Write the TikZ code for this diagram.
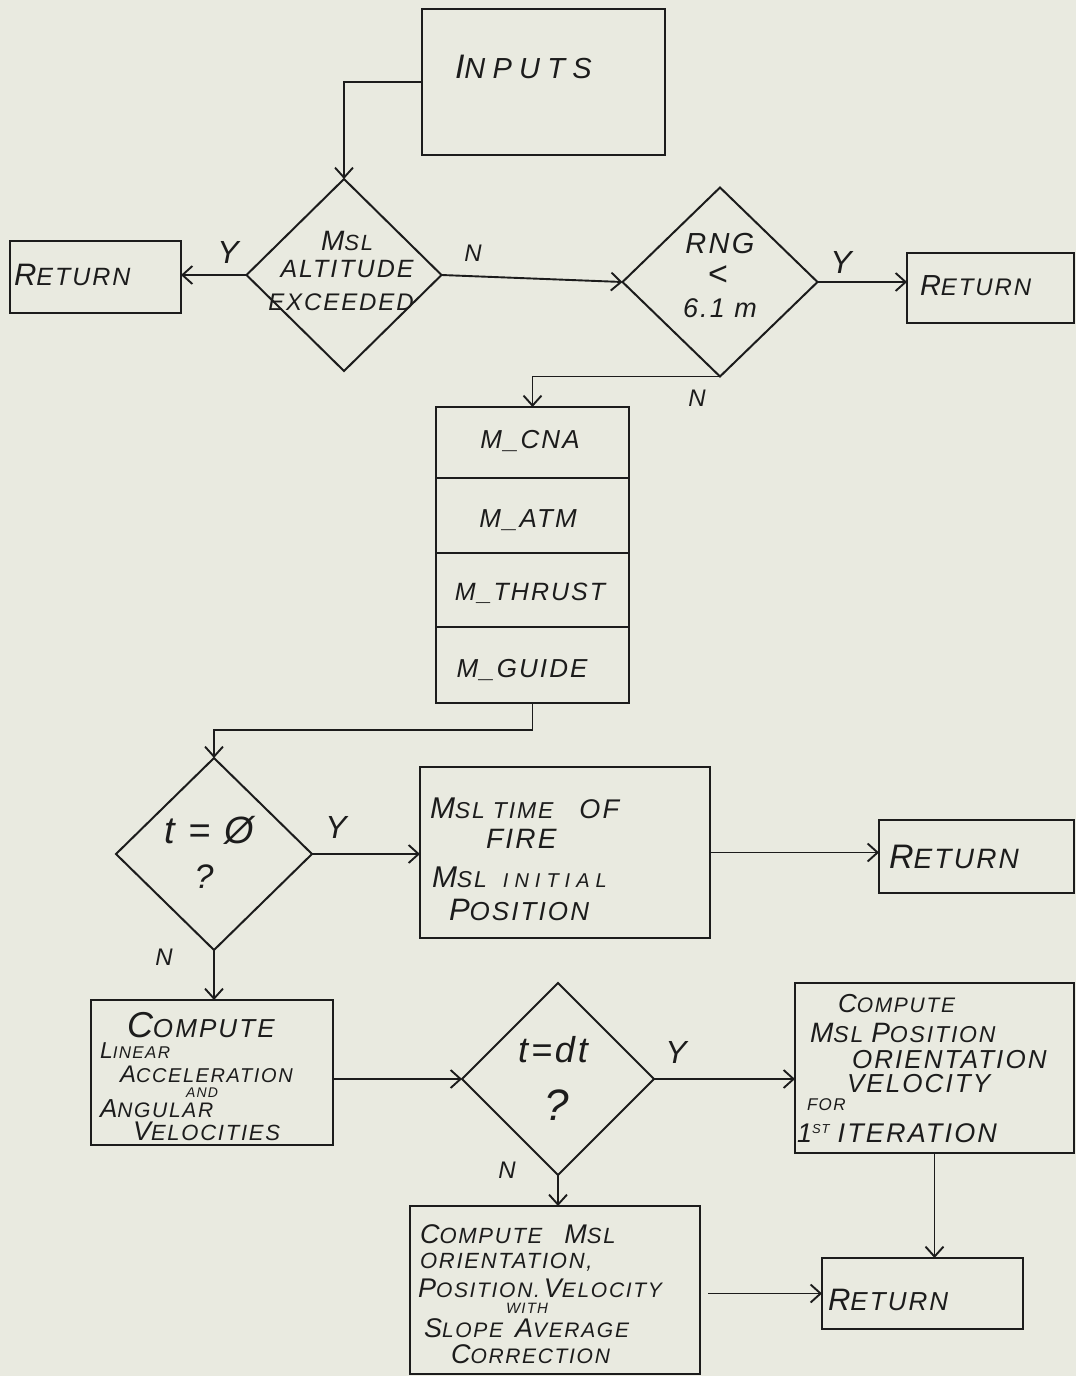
\documentclass[tikz,border=0pt]{standalone}
\usepackage{fontspec}
\setmainfont{Liberation Sans}[LetterSpace=8]
\usetikzlibrary{arrows.meta,shapes.geometric}
\definecolor{paper}{RGB}{233,234,224}
\definecolor{ink}{RGB}{28,28,28}
\newcommand\fsz[1]{\fontsize{#1pt}{#1pt}\selectfont}
\newcommand\IC[4]{{\fsz{#1}#2}{\fsz{#3}#4}}
\begin{document}
\begin{tikzpicture}[x=1pt,y=-1pt,
  box/.style={draw=ink, line width=2.6pt, rectangle, inner sep=0pt, outer sep=0pt},
  dia/.style={draw=ink, line width=2pt, diamond, inner sep=0pt, outer sep=0pt},
  txt/.style={anchor=base west, inner sep=0pt, outer sep=0pt, font=\itshape, text=ink},
  ctxt/.style={anchor=base, inner sep=0pt, outer sep=0pt, font=\itshape, text=ink},
  lbl/.style={anchor=center, inner sep=0pt, outer sep=0pt, font=\itshape\fsz{32}, text=ink},
  conn/.style={draw=ink, line width=1.9pt, -{Straight Barb[length=10pt,width=18pt,line width=1.9pt]}}]
\fill[paper] (0,0) rectangle (1076,1376);
\useasboundingbox (0,0) rectangle (1076,1376);

% boxes
\node[box, minimum width=243pt, minimum height=146pt] (inputs) at (543.5,82) {};
\node[box, minimum width=171pt, minimum height=72pt] (retL) at (95.5,277) {};
\node[dia, minimum width=195pt, minimum height=192pt] (d1) at (344,275) {};
\node[dia, minimum width=195pt, minimum height=189pt] (d2) at (720,282) {};
\node[box, minimum width=167pt, minimum height=70pt] (retR) at (990.5,288) {};
\node[box, minimum width=193pt, minimum height=71pt] (cna) at (532.5,442.5) {};
\node[box, minimum width=193pt, minimum height=75pt] (atm) at (532.5,515.5) {};
\node[box, minimum width=193pt, minimum height=74pt] (thr) at (532.5,590) {};
\node[box, minimum width=193pt, minimum height=76pt] (gui) at (532.5,665) {};
\node[dia, minimum width=196pt, minimum height=192pt] (d3) at (214,854) {};
\node[box, minimum width=290pt, minimum height=171pt] (time) at (565,852.5) {};
\node[box, minimum width=195pt, minimum height=73pt] (ret3) at (976.5,856.5) {};
\node[box, minimum width=242pt, minimum height=145pt] (c1) at (212,1072.5) {};
\node[dia, minimum width=192pt, minimum height=192pt] (d4) at (558,1079) {};
\node[box, minimum width=279pt, minimum height=170pt] (c2) at (934.5,1068) {};
\node[box, minimum width=290pt, minimum height=168pt] (c3) at (555,1290) {};
\node[box, minimum width=201pt, minimum height=71pt] (r4) at (922.5,1293.5) {};

% texts
\node[txt, font=\itshape\addfontfeature{LetterSpace=25}] (tin) at (455,78) {\IC{34}{I}{29}{NPUTS}};
\node[txt] (trL) at (14,285) {\IC{31}{R}{25}{ETURN}};
\node[ctxt] (td1a) at (347,250) {\IC{28}{M}{22}{SL}};
\node[ctxt] (td1b) at (347,277) {\fsz{25}ALTITUDE};
\node[ctxt] (td1c) at (341,310) {\fsz{24}EXCEEDED};
\node[ctxt] (td2a) at (720,253) {\fsz{29}RNG};
\node[anchor=center, inner sep=0pt, text=ink, font=\fsz{34}] (td2b) at (718,276) {<};
\node[ctxt] (td2c) at (720,317) {\fsz{27}6.1 m};
\node[txt] (trR) at (920,295) {\IC{29}{R}{24}{ETURN}};
\node[ctxt] (tcna) at (530,448) {\fsz{26}M\_CNA};
\node[ctxt] (tatm) at (528,527) {\fsz{26}M\_ATM};
\node[ctxt] (tthr) at (530,600) {\fsz{25}M\_THRUST};
\node[ctxt] (tgui) at (522,677) {\fsz{26}M\_GUIDE};
\node[ctxt] (td3a) at (209,843) {\fsz{38}t = Ø};
\node[ctxt] (td3b) at (204,888) {\fsz{34}?};
\node[txt] (tt1) at (430,818) {\IC{30}{M}{23}{SL}\hspace{8pt}{\fsz{23}TIME}\hspace{26pt}{\fsz{27}OF}};
\node[txt] (tt2) at (486,848) {\fsz{28}FIRE};
\node[txt] (tt3) at (432,887) {\IC{30}{M}{23}{SL}\hspace{16pt}{\fsz{20}\addfontfeature{LetterSpace=30}INITIAL}};
\node[txt] (tt4) at (449,920) {\IC{31}{P}{26}{OSITION}};
\node[txt] (tr3) at (889,868) {\IC{34}{R}{28}{ETURN}};
\node[txt] (tc1a) at (127,1037) {\IC{36}{C}{26}{OMPUTE}};
\node[txt] (tc1b) at (100,1058) {\IC{23}{L}{17}{INEAR}};
\node[txt] (tc1c) at (120,1082) {\IC{24}{A}{20}{CCELERATION}};
\node[ctxt] (tc1d) at (202,1097) {\fsz{14}AND};
\node[txt] (tc1e) at (100,1117) {\IC{26}{A}{21}{NGULAR}};
\node[txt] (tc1f) at (133,1140) {\IC{27}{V}{22}{ELOCITIES}};
\node[ctxt] (td4a) at (553,1062) {\fsz{36}t=dt};
\node[ctxt] (td4b) at (557,1120) {\fsz{44}?};
\node[txt] (tc2a) at (838,1012) {\IC{26}{C}{21}{OMPUTE}};
\node[txt] (tc2b) at (810,1042) {\IC{28}{M}{23}{SL}\hspace{8pt}\IC{28}{P}{23}{OSITION}};
\node[txt] (tc2c) at (852,1068) {\fsz{26}ORIENTATION};
\node[txt] (tc2d) at (847,1092) {\fsz{26}VELOCITY};
\node[txt] (tc2e) at (807,1110) {\fsz{17}FOR};
\node[txt] (tc2f) at (797,1142) {{\fsz{27}1}\raisebox{9pt}{\fsz{13}ST}\hspace{8pt}{\fsz{27}ITERATION}};
\node[txt] (tc3a) at (420,1243) {\IC{27}{C}{22}{OMPUTE}\hspace{22pt}\IC{27}{M}{22}{SL}};
\node[txt] (tc3b) at (420,1268) {\fsz{22}ORIENTATION,};
\node[txt] (tc3c) at (418,1297) {\IC{27}{P}{21}{OSITION.}\hspace{4pt}\IC{27}{V}{21}{ELOCITY}};
\node[ctxt] (tc3d) at (527,1313) {\fsz{15}WITH};
\node[txt] (tc3e) at (424,1337) {\IC{27}{S}{21}{LOPE}\hspace{12pt}\IC{27}{A}{21}{VERAGE}};
\node[txt] (tc3f) at (451,1363) {\IC{27}{C}{21}{ORRECTION}};
\node[txt] (tr4) at (828,1310) {\IC{31}{R}{26}{ETURN}};

% labels
\node[lbl] (ly1) at (228,252) {Y};
\node[lbl, font=\itshape\fsz{24}] (ln1) at (473,253) {N};
\node[lbl] (ly2) at (841,262) {Y};
\node[lbl, font=\itshape\fsz{24}] (ln2) at (697,398) {N};
\node[lbl] (ly3) at (336,827) {Y};
\node[lbl, font=\itshape\fsz{24}] (ln3) at (164,957) {N};
\node[lbl] (ly4) at (676,1052) {Y};
\node[lbl, font=\itshape\fsz{24}] (ln4) at (507,1170) {N};

% connectors
\draw[conn] (inputs.west) -| (d1.north);
\draw[conn] (d1.west) -- (d1.west -| retL.east);
\draw[conn] (d1.east) -- (d2.west);
\draw[conn] (d2.east) -- (d2.east -| retR.west);
\draw[conn] (d2.south) -| (cna.north);
\draw[conn] (gui.south) -- ++(0,27) -| (d3.north);
\draw[conn] (d3.east) -- (d3.east -| time.west);
\draw[conn] (time.east) -- (time.east -| ret3.west);
\draw[conn] (d3.south) -- (d3.south |- c1.north);
\draw[conn] (d4.west -| c1.east) -- (d4.west);
\draw[conn] (d4.east) -- (d4.east -| c2.west);
\draw[conn] (d4.south) -- (d4.south |- c3.north);
\draw[conn] (c2.south) -- (c2.south |- r4.north);
\draw[conn, shorten <=8pt] (r4.west -| c3.east) -- (r4.west);
\end{tikzpicture}
\end{document}
